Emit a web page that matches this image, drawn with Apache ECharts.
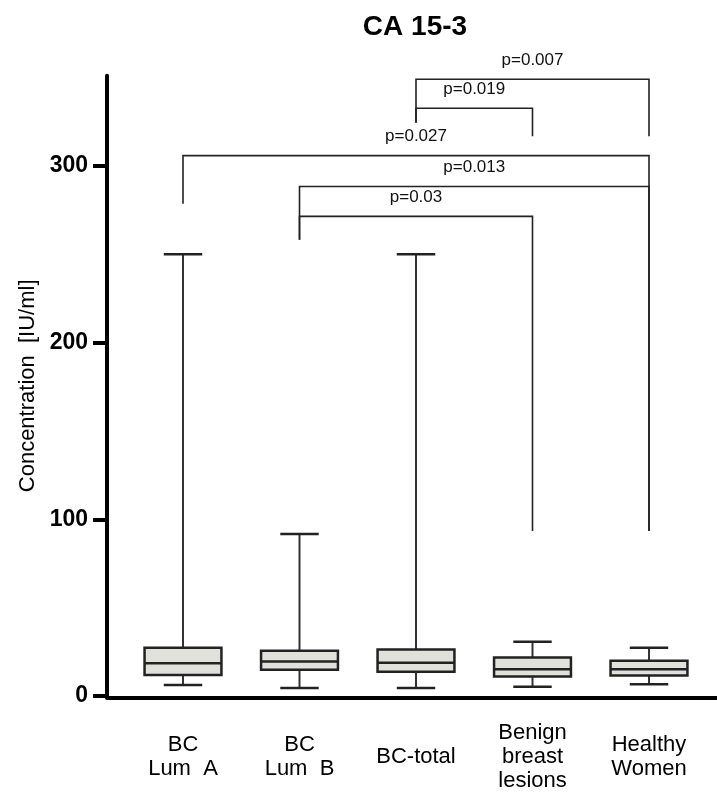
<!DOCTYPE html>
<html><head><meta charset="utf-8">
<script src="https://cdn.jsdelivr.net/npm/echarts@6/dist/echarts.min.js"></script>
<style>html,body{margin:0;padding:0;background:#fff}#c{width:717px;height:793px}</style>
</head><body><div id="c"></div>
<script>
const chartTitle = 'CA 15-3';
const yAxisName = 'Concentration  [IU/ml]';
const categories = ['BC\nLum  A', 'BC\nLum  B', 'BC-total', 'Benign\nbreast\nlesions', 'Healthy\nWomen'];
const whiskerLow = [6.2, 4.5, 4.5, 5.2, 6.6];
const q1 = [11.9, 14.9, 13.7, 11.1, 11.6];
const median = [18.6, 19.5, 18.8, 15.2, 15.2];
const q3 = [27.3, 25.6, 26.3, 21.8, 19.9];
const whiskerHigh = [250, 91.6, 250, 30.7, 27.3];
const yTicks = [0, 100, 200, 300];

// significance brackets
const bracketFrom = [2, 2, 0, 1, 1];
const bracketTo = [4, 3, 4, 4, 3];
const bracketLevel = [349.0, 332.6, 305.8, 288.3, 271.4];
const bracketFromEnd = [324.4, 324.4, 278.5, 258.2, 258.2];
const bracketToEnd = [316.7, 316.7, 93.3, 93.3, 93.3];
const pLabels = ['p=0.007', 'p=0.019', 'p=0.027', 'p=0.013', 'p=0.03'];

const FONT = '"Liberation Sans", Arial, Helvetica, sans-serif';
const gridTop = 75.7, gridBottom = 95.7;
const boxData = categories.map((c, i) => [i, whiskerLow[i], q1[i], median[i], q3[i], whiskerHigh[i]]);
const bracketData = pLabels.map((p, i) => [bracketFrom[i], bracketTo[i], bracketLevel[i], bracketFromEnd[i], bracketToEnd[i]]);

const chart = echarts.init(document.getElementById('c'), null, {renderer: 'canvas'});
const option = {
  animation: false,
  title: {
    text: chartTitle, left: 410, top: 8, textAlign: 'center',
    textStyle: {fontFamily: FONT, fontWeight: 'bold', fontSize: 28, color: '#000'}
  },
  grid: [
    {left: 124.75, right: 9.75, top: gridTop, bottom: gridBottom},
    {left: 107, right: 0, top: gridTop, bottom: gridBottom}
  ],
  xAxis: [
    {
      gridIndex: 0, type: 'category', data: categories,
      axisLine: {show: false}, axisTick: {show: false}, splitLine: {show: false},
      axisLabel: {fontFamily: FONT, fontSize: 22, color: '#000', margin: 61, verticalAlign: 'middle', lineHeight: 24, interval: 0}
    },
    {
      gridIndex: 1, type: 'value', min: 0, max: 1,
      axisLine: {show: true, onZero: false, lineStyle: {color: '#000', width: 4}},
      axisTick: {show: false}, axisLabel: {show: false}, splitLine: {show: false}
    }
  ],
  yAxis: [
    {
      gridIndex: 0, type: 'value', min: 0, max: 351, offset: 17.75,
      axisLine: {show: true, lineStyle: {color: '#000', width: 4}},
      axisTick: {show: true, length: 14, customValues: yTicks, lineStyle: {color: '#000', width: 4}},
      axisLabel: {fontFamily: FONT, fontWeight: 'bold', fontSize: 23, color: '#000', margin: 19, customValues: yTicks},
      splitLine: {show: false},
      name: yAxisName, nameLocation: 'middle', nameGap: 67, nameRotate: 90,
      nameTextStyle: {fontFamily: FONT, fontSize: 22, color: '#000'}
    },
    {gridIndex: 1, type: 'value', min: 0, max: 351, show: false}
  ],
  series: [
    {
      type: 'custom', xAxisIndex: 0, yAxisIndex: 0, clip: false,
      data: boxData,
      encode: {x: 0, y: [1, 2, 3, 4, 5]},
      renderItem: function (params, api) {
        const i = api.value(0);
        const bw = api.size([1, 0])[0];
        const boxW = bw * 0.66, capW = boxW / 2;
        const pLow = api.coord([i, api.value(1)]);
        const pQ1 = api.coord([i, api.value(2)]);
        const pMed = api.coord([i, api.value(3)]);
        const pQ3 = api.coord([i, api.value(4)]);
        const pHigh = api.coord([i, api.value(5)]);
        const x = pQ1[0];
        const wl = {stroke: '#333', lineWidth: 2};
        const cap = {stroke: '#222', lineWidth: 2.5};
        return {
          type: 'group', children: [
            {type: 'line', shape: {x1: x, y1: pQ3[1], x2: x, y2: pHigh[1]}, style: wl},
            {type: 'line', shape: {x1: x, y1: pQ1[1], x2: x, y2: pLow[1]}, style: wl},
            {type: 'line', shape: {x1: x - capW / 2, y1: pHigh[1], x2: x + capW / 2, y2: pHigh[1]}, style: cap},
            {type: 'line', shape: {x1: x - capW / 2, y1: pLow[1], x2: x + capW / 2, y2: pLow[1]}, style: cap},
            {type: 'rect', shape: {x: x - boxW / 2, y: pQ3[1], width: boxW, height: pQ1[1] - pQ3[1]},
              style: {fill: '#e1e1db', stroke: '#222', lineWidth: 2.5}},
            {type: 'line', shape: {x1: x - boxW / 2, y1: pMed[1], x2: x + boxW / 2, y2: pMed[1]}, style: {stroke: '#222', lineWidth: 2.5}}
          ]
        };
      }
    },
    {
      type: 'custom', xAxisIndex: 0, yAxisIndex: 0, clip: false,
      data: bracketData,
      encode: {x: [0, 1], y: [2, 3, 4]},
      renderItem: function (params, api) {
        const idx = params.dataIndex;
        const a = api.coord([api.value(0), api.value(2)]);
        const b = api.coord([api.value(1), api.value(2)]);
        const aEnd = api.coord([api.value(0), api.value(3)]);
        const bEnd = api.coord([api.value(1), api.value(4)]);
        return {
          type: 'group', children: [
            {type: 'polyline', shape: {points: [[aEnd[0], aEnd[1]], [a[0], a[1]], [b[0], b[1]], [bEnd[0], bEnd[1]]]},
              style: {stroke: '#222', lineWidth: 1.6, fill: null}},
            {type: 'text', x: (a[0] + b[0]) / 2, y: a[1] - 19,
              style: {text: pLabels[idx], fontFamily: FONT, fontSize: 17, fill: '#111', align: 'center', verticalAlign: 'middle'}}
          ]
        };
      }
    }
  ]
};
chart.setOption(option);
</script>
</body></html>
